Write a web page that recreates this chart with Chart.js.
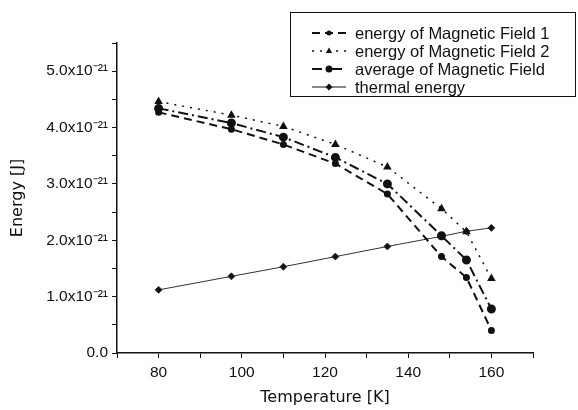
<!DOCTYPE html>
<html>
<head>
<meta charset="utf-8">
<script src="https://cdn.jsdelivr.net/npm/chart.js@4"></script>
<style>
  html, body { margin: 0; padding: 0; background: #fff; }
  #wrap { width: 578px; height: 410px; position: relative; }
</style>
</head>
<body>
<div id="wrap"><canvas id="chartEnergia" width="578" height="410"></canvas></div>
<script>
// Temperatura [K] dos pontos medidos
const temperaturas = [80, 97.5, 110, 122.5, 135, 148, 154, 160];
// Energias em unidades de 1e-21 J
const campo1 = [4.27, 3.97, 3.70, 3.36, 2.82, 1.71, 1.34, 0.40];
const campo2 = [4.46, 4.22, 4.02, 3.70, 3.30, 2.56, 2.15, 1.32];
const mediaCampo = [4.34, 4.08, 3.83, 3.47, 3.00, 2.08, 1.65, 0.78];
const termica = [1.12, 1.36, 1.53, 1.71, 1.89, 2.07, 2.16, 2.22];

const nomes = [
    'energy of Magnetic Field 1',
    'energy of Magnetic Field 2',
    'average of Magnetic Field',
    'thermal energy'
];

const FONTE = '"Liberation Sans", Arial, sans-serif';
const FONTE_TITULO = '"DejaVu Sans", sans-serif';
const PRETO = '#111';

const pares = vals => vals.map((v, i) => ({ x: temperaturas[i], y: v }));

// ============================
// Legenda desenhada à mão (caixa sobreposta ao gráfico)
// ============================
function marcador(ctx, estilo, x, y, r) {
    ctx.beginPath();
    if (estilo === 'triangle') {
        ctx.moveTo(x, y - r);
        ctx.lineTo(x + r * 0.9, y + r * 0.6);
        ctx.lineTo(x - r * 0.9, y + r * 0.6);
        ctx.closePath();
    } else if (estilo === 'rectRot') {
        ctx.moveTo(x, y - r);
        ctx.lineTo(x + r, y);
        ctx.lineTo(x, y + r);
        ctx.lineTo(x - r, y);
        ctx.closePath();
    } else {
        ctx.arc(x, y, r, 0, Math.PI * 2);
    }
    ctx.fill();
}

const legendaCaixa = {
    id: 'legendaCaixa',
    afterDraw(chart) {
        const ctx = chart.ctx;
        ctx.save();
        ctx.strokeStyle = PRETO;
        ctx.lineWidth = 1;
        ctx.fillStyle = '#fff';
        ctx.fillRect(290.5, 12.5, 285, 84);
        ctx.strokeRect(290.5, 12.5, 285, 84);
        const linhasY = [33, 51, 69, 87];
        chart.data.datasets.forEach((ds, i) => {
            const y = linhasY[i];
            ctx.strokeStyle = PRETO;
            ctx.lineWidth = ds.borderWidth;
            ctx.setLineDash(ds.borderDash || []);
            ctx.beginPath();
            ctx.moveTo(312, y);
            ctx.lineTo(346, y);
            ctx.stroke();
            ctx.setLineDash([]);
            ctx.fillStyle = PRETO;
            marcador(ctx, ds.pointStyle, 329, y, ds.pointRadius);
            ctx.font = '16.5px ' + FONTE;
            ctx.textBaseline = 'middle';
            ctx.fillText(ds.label, 355, y + 1);
        });
        ctx.restore();
    }
};

const ctx = document.getElementById('chartEnergia');
new Chart(ctx.getContext('2d'), {
    type: 'line',
    data: {
        datasets: [
            {
                label: nomes[0],
                data: pares(campo1),
                borderColor: PRETO,
                backgroundColor: PRETO,
                borderWidth: 2,
                borderDash: [8, 5],
                pointStyle: 'circle',
                pointRadius: 2.5
            },
            {
                label: nomes[1],
                data: pares(campo2),
                borderColor: PRETO,
                backgroundColor: PRETO,
                borderWidth: 1.5,
                borderDash: [2, 6],
                pointStyle: 'triangle',
                pointRadius: 3.5
            },
            {
                label: nomes[2],
                data: pares(mediaCampo),
                borderColor: PRETO,
                backgroundColor: PRETO,
                borderWidth: 2,
                borderDash: [10, 4, 2, 4],
                pointStyle: 'circle',
                pointRadius: 3.5
            },
            {
                label: nomes[3],
                data: pares(termica),
                borderColor: '#333',
                backgroundColor: PRETO,
                borderWidth: 1,
                borderDash: [],
                pointStyle: 'rectRot',
                pointRadius: 3.5
            }
        ]
    },
    options: {
        responsive: false,
        animation: false,
        layout: { padding: { top: 43, right: 45, left: 0, bottom: 0 } },
        plugins: {
            legend: { display: false },
            tooltip: { enabled: false }
        },
        scales: {
            x: {
                type: 'linear',
                min: 70,
                max: 170,
                afterFit: s => { s.height = 57; },
                ticks: {
                    stepSize: 10,
                    autoSkip: false,
                    maxRotation: 0,
                    padding: 5,
                    color: PRETO,
                    font: { family: FONTE, size: 15.5 },
                    callback: v => (v % 20 === 0 && v >= 80 && v <= 160) ? String(v) : ''
                },
                grid: { drawOnChartArea: false, tickLength: 5, color: PRETO },
                border: { display: true, color: PRETO, width: 1.5 },
                title: {
                    display: true,
                    text: 'Temperature [K]',
                    color: PRETO,
                    font: { family: FONTE_TITULO, size: 16 },
                    padding: { top: 2, bottom: 3 }
                }
            },
            y: {
                min: 0,
                max: 5.5,
                afterFit: s => { s.width = 117; },
                ticks: {
                    stepSize: 0.5,
                    autoSkip: false,
                    padding: 4,
                    color: PRETO,
                    font: { family: FONTE, size: 15.5 },
                    callback: v => {
                        if (v === 0) return '0.0';
                        return Number.isInteger(v) ? v.toFixed(1) + 'x10\u207B\u00B2\u00B9' : '';
                    }
                },
                grid: { drawOnChartArea: false, tickLength: 5, color: PRETO },
                border: { display: true, color: PRETO, width: 1.5 },
                title: {
                    display: true,
                    text: 'Energy [J]',
                    color: PRETO,
                    font: { family: FONTE_TITULO, size: 16 },
                    padding: { top: 8, bottom: 4 }
                }
            }
        }
    },
    plugins: [legendaCaixa]
});
</script>
</body>
</html>
